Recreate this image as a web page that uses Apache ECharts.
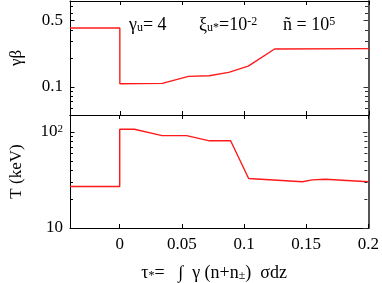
<!DOCTYPE html>
<html><head><meta charset="utf-8">
<script src="https://cdn.jsdelivr.net/npm/echarts@6/dist/echarts.min.js"></script>
<style>html,body{margin:0;padding:0;background:#fff}#c{width:382px;height:283px}</style>
</head><body><div id="c"></div>
<script>
// ---- data ----
const gbX = [-0.04, 0, 0, 0.0341, 0.0551, 0.0717, 0.0874, 0.1031, 0.1242, 0.2];
const gbY = [0.415, 0.415, 0.107, 0.108, 0.128, 0.130, 0.141, 0.164, 0.249, 0.251];
const tX = [-0.04, 0, 0, 0.0118, 0.0341, 0.0538, 0.0722, 0.0892, 0.1037, 0.147, 0.1549, 0.1654, 0.2];
const tY = [27.0, 27.0, 106.6, 106.6, 91.6, 91.6, 80.8, 80.8, 32.7, 30.3, 31.7, 32.2, 30.3];
const xTicks = [0, 0.05, 0.1, 0.15, 0.2];
const gbMajor = [0.1, 0.5];
const gbMinor = [0.06, 0.07, 0.08, 0.09, 0.2, 0.3, 0.4, 0.6, 0.7];
const tMajor = [10, 100];
const tMinor = [20, 30, 40, 50, 60, 70, 80, 90];

const X_MIN = -0.04, X_MAX = 0.2;
const FONT = 'Liberation Serif';
const lg = v => Math.log10(v);
const zipLog = (a, b) => a.map((v, i) => [v, lg(b[i])]);

function xAxis(grid, pos, labels, name) {
  return {
    type: 'value', gridIndex: grid, position: pos, min: X_MIN, max: X_MAX,
    axisLine: { show: true, onZero: false, lineStyle: { color: '#000', width: 1 } },
    axisTick: { show: true, inside: true, length: 4, customValues: xTicks, lineStyle: { color: '#000' } },
    axisLabel: { show: labels, customValues: xTicks, margin: 8, color: '#000', fontFamily: FONT, fontSize: 17 },
    splitLine: { show: false },
    name: name || '', nameLocation: 'middle', nameGap: 36,
    nameTextStyle: name ? {
      color: '#000', fontFamily: FONT, fontSize: 18, padding: [0, 10, 0, 0],
      rich: { m: { fontFamily: FONT, fontSize: 18, color: '#000' },
              sub: { fontFamily: FONT, fontSize: 12, color: '#000', verticalAlign: 'bottom', lineHeight: 13 } }
    } : {}
  };
}
// log-scaled y axes: values are passed through log10 onto a value axis
function yAxes(grid, min, max, major, fmt, name) {
  const base = { type: 'value', gridIndex: grid, min: lg(min), max: lg(max), splitLine: { show: false } };
  return [
    Object.assign({}, base, {
      position: 'left',
      axisLine: { show: true, onZero: false, lineStyle: { color: '#000', width: 1 } },
      axisTick: { show: false },
      axisLabel: { show: true, customValues: major.map(lg), formatter: v => fmt(Math.pow(10, v)), margin: 7,
        color: '#000', fontFamily: FONT, fontSize: 17,
        rich: { sup: { fontFamily: FONT, fontSize: 11, color: '#000', verticalAlign: 'top', lineHeight: 11 } } },
      name: name, nameLocation: 'middle', nameGap: 45, nameRotate: 90,
      nameTextStyle: { color: '#000', fontFamily: FONT, fontSize: 17 }
    }),
    Object.assign({}, base, {
      position: 'right',
      axisLine: { show: true, onZero: false, lineStyle: { color: '#555', width: 2 } },
      axisTick: { show: false },
      axisLabel: { show: false }
    })
  ];
}

// tick marks on both vertical borders, placed through the axis scale
function tickSeries(xIdx, yIdx, major, minor) {
  const data = major.map(v => [X_MIN, lg(v), 1]).concat(minor.map(v => [X_MIN, lg(v), 0]));
  return {
    type: 'custom', xAxisIndex: xIdx, yAxisIndex: yIdx, silent: true, clip: false, z: 5,
    encode: { x: 0, y: 1 },
    data: data,
    renderItem: function (params, api) {
      const yv = api.value(1);
      const len = api.value(2) ? 4.5 : 3;
      const pl = api.coord([X_MIN, yv]);
      const pr = api.coord([X_MAX, yv]);
      const y = Math.round(pl[1]) + 0.5;
      return { type: 'group', children: [
        { type: 'line', shape: { x1: pl[0], y1: y, x2: pl[0] + len, y2: y }, style: { stroke: '#000', lineWidth: 1 } },
        { type: 'line', shape: { x1: pr[0] - 1, y1: y, x2: pr[0] - 1 - len, y2: y }, style: { stroke: '#333', lineWidth: 1 } }
      ] };
    }
  };
}

const chart = echarts.init(document.getElementById('c'), null, { renderer: 'canvas' });
const richAnn = {
  m: { fontFamily: FONT, fontSize: 18, fill: '#000' },
  sub: { fontFamily: FONT, fontSize: 12, fill: '#000', verticalAlign: 'bottom', lineHeight: 13 },
  sup: { fontFamily: FONT, fontSize: 12, fill: '#000', verticalAlign: 'top', lineHeight: 12 }
};
chart.setOption({
  animation: false,
  grid: [
    { left: 64, top: 1, width: 305, height: 114 },
    { left: 64, top: 115, width: 305, height: 114 }
  ],
  xAxis: [
    xAxis(0, 'bottom', false),
    xAxis(0, 'top', false),
    xAxis(1, 'bottom', true, '{m|τ}{sub|*}{m|=   ∫  γ (n+n}{sub|±}{m|)  σdz}'),
    xAxis(1, 'top', false)
  ],
  yAxis: [].concat(
    yAxes(0, 0.05, 0.8, gbMajor, v => String(Math.round(v * 10) / 10), 'γβ'),
    yAxes(1, 10, 150, tMajor, v => (v >= 50 ? '10{sup|2}' : '10'), 'T (keV)')
  ),
  series: [
    { type: 'line', xAxisIndex: 0, yAxisIndex: 0, data: zipLog(gbX, gbY), symbol: 'none',
      lineStyle: { color: '#ff1a1a', width: 1.4 } },
    { type: 'line', xAxisIndex: 2, yAxisIndex: 2, data: zipLog(tX, tY), symbol: 'none',
      lineStyle: { color: '#ff1a1a', width: 1.4 } },
    tickSeries(0, 0, gbMajor, gbMinor),
    tickSeries(2, 2, tMajor, tMinor)
  ],
  graphic: [
    { type: 'text', left: 129, top: 16, style: { text: '{m|γ}{sub|u}{m|= 4}', rich: richAnn } },
    { type: 'text', left: 199, top: 16, style: { text: '{m|ξ}{sub|u*}{m|=10}{sup|-2}', rich: richAnn } },
    { type: 'text', left: 283, top: 16, style: { text: '{m|ñ = 10}{sup|5}', rich: richAnn } }
  ]
});
</script>
</body></html>
